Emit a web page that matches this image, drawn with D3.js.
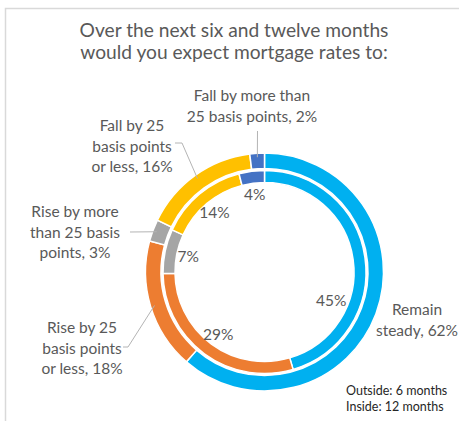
<!DOCTYPE html>
<html>
<head>
<meta charset="utf-8">
<script src="https://cdn.jsdelivr.net/npm/d3@7"></script>
<style>
    body { margin: 0; background: #fff; }
    text { font-family: Lato, "Open Sans", sans-serif; }
</style>
</head>
<body>
<div id="chart-area"></div>
<script>
// categories, in drawing order (clockwise from 12 o'clock)
const categories = [
    "Remain steady",
    "Rise by 25 basis points or less",
    "Rise by more than 25 basis points",
    "Fall by 25 basis points or less",
    "Fall by more than 25 basis points"
];
// outer ring = 6 months, inner ring = 12 months (percent)
const sixMonths = [62, 18, 3, 16, 2];
const twelveMonths = [45, 29, 7, 14, 4];

const titleLines = ["Over the next six and twelve months", "would you expect mortgage rates to:"];
const noteLines = ["Outside: 6 months", "Inside: 12 months"];

const sliceColors = ["#00B0F0", "#ED7D31", "#A5A5A5", "#FFC000", "#4472C4"];

// outer label layout: where the words break, text position, leader start
const outerLabelLayout = [
    { breaks: [1], x: 417, y: 315, leader: null },
    { breaks: [3, 5], x: 82, y: 333, leader: [[123, 347], [128, 347]] },
    { breaks: [3, 6], x: 75, y: 217, leader: [[130, 232]] },
    { breaks: [3, 5], x: 132, y: 131, leader: [[175, 143], [182, 143]] },
    { breaks: [4], x: 252, y: 101, leader: [[257.5, 131]] }
];

class DoubleDonut {
    constructor(_parentElement) {
        this.parentElement = _parentElement;
        this.initVis();
    }

    initVis() {
        let vis = this;
        vis.width = 459;
        vis.height = 421;
        vis.cx = 264.5;
        vis.cy = 272;

        vis.svg = d3.select("#" + vis.parentElement)
            .append("svg")
            .attr("width", vis.width)
            .attr("height", vis.height);

        // frame (only top and left edges show in the crop)
        vis.svg.append("path")
            .attr("d", "M5.5,421V8.5H459")
            .attr("fill", "none")
            .attr("stroke", "#d9d9d9")
            .attr("stroke-width", 1.5);

        vis.svg.selectAll(".title")
            .data(titleLines)
            .enter().append("text")
            .attr("class", "title")
            .attr("x", 234)
            .attr("y", (d, i) => 37 + i * 22)
            .attr("text-anchor", "middle")
            .attr("font-size", 19.2)
            .attr("fill", "#595959")
            .text(d => d);

        vis.g = vis.svg.append("g")
            .attr("transform", `translate(${vis.cx},${vis.cy})`);

        vis.pie = d3.pie().sort(null).value(d => d.value);
        vis.outerArc = d3.arc().innerRadius(103.5).outerRadius(119);
        vis.innerArc = d3.arc().innerRadius(89.5).outerRadius(101.5);

        vis.wrangleData();
    }

    wrangleData() {
        let vis = this;
        vis.outerData = vis.pie(categories.map((c, i) => ({ cat: c, value: sixMonths[i], idx: i })));
        vis.innerData = vis.pie(categories.map((c, i) => ({ cat: c, value: twelveMonths[i], idx: i })));
        vis.updateVis();
    }

    updateVis() {
        let vis = this;

        vis.g.selectAll(".outer-slice")
            .data(vis.outerData)
            .enter().append("path")
            .attr("class", "outer-slice")
            .attr("d", vis.outerArc)
            .attr("fill", d => sliceColors[d.data.idx])
            .attr("stroke", "#fff")
            .attr("stroke-width", 1.5);

        vis.g.selectAll(".inner-slice")
            .data(vis.innerData)
            .enter().append("path")
            .attr("class", "inner-slice")
            .attr("d", vis.innerArc)
            .attr("fill", d => sliceColors[d.data.idx])
            .attr("stroke", "#fff")
            .attr("stroke-width", 1.5);

        // inner ring labels sit just inside the hole
        let innerLabelArc = d3.arc().innerRadius(78).outerRadius(78);
        vis.g.selectAll(".inner-label")
            .data(vis.innerData)
            .enter().append("text")
            .attr("class", "inner-label")
            .attr("transform", d => {
                let a = d;
                // the big slice's label was dragged further round
                if (d.data.idx === 0) a = { startAngle: d.endAngle * 0.69, endAngle: d.endAngle * 0.69 };
                let c = innerLabelArc.centroid(a);
                if (d.data.idx === 0) c = [c[0] * 0.93, c[1] * 0.93];
                return `translate(${c[0]},${c[1] + 5.5})`;
            })
            .attr("text-anchor", "middle")
            .attr("font-size", 15.5)
            .attr("fill", "#595959")
            .text(d => d.value + "%");

        // outer labels with leader lines
        let leaderArc = d3.arc().innerRadius(115).outerRadius(115);
        vis.outerData.forEach(d => {
            let lay = outerLabelLayout[d.data.idx];
            let words = (d.data.cat + ", " + d.value + "%").split(" ");
            let cuts = [0].concat(lay.breaks, [words.length]);
            let lines = [];
            for (let i = 0; i < cuts.length - 1; i++) lines.push(words.slice(cuts[i], cuts[i + 1]).join(" "));

            vis.svg.append("text")
                .attr("text-anchor", "middle")
                .attr("font-size", 15.5)
                .attr("fill", "#595959")
                .selectAll("tspan")
                .data(lines)
                .enter().append("tspan")
                .attr("x", lay.x)
                .attr("y", (l, i) => lay.y + i * 20.5)
                .text(l => l);

            if (lay.leader) {
                let c = leaderArc.centroid(d);
                let pts = lay.leader.concat([[c[0] + vis.cx, c[1] + vis.cy]]);
                vis.svg.append("path")
                    .attr("d", d3.line()(pts))
                    .attr("fill", "none")
                    .attr("stroke", "#b4b4b4")
                    .attr("stroke-width", 1);
            }
        });

        vis.svg.selectAll(".note")
            .data(noteLines)
            .enter().append("text")
            .attr("class", "note")
            .attr("x", 346)
            .attr("y", (d, i) => 395 + i * 15.5)
            .attr("font-size", 12.5)
            .attr("fill", "#262626")
            .text(d => d);
    }
}

new DoubleDonut("chart-area");
</script>
</body>
</html>
